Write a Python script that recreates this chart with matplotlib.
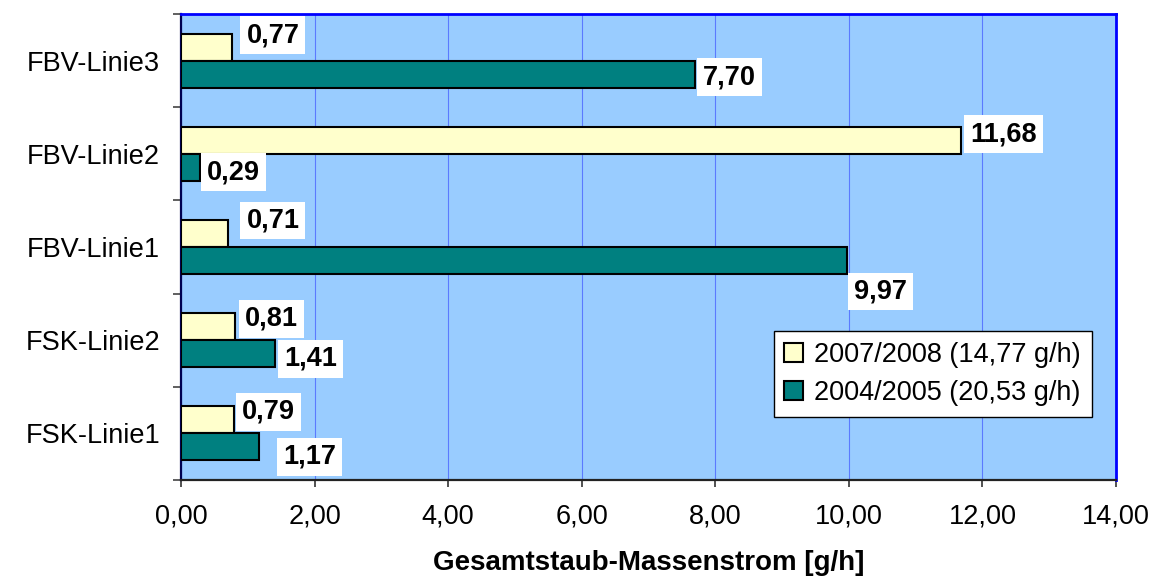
import matplotlib
matplotlib.use("Agg")

import matplotlib.pyplot as plt
import numpy as np

# ============================================================
# Data
# ============================================================

categories = ["FSK-Linie1", "FSK-Linie2", "FBV-Linie1", "FBV-Linie2", "FBV-Linie3"]

values_0708 = [0.79, 0.81, 0.71, 11.68, 0.77]
values_0405 = [1.17, 1.41, 9.97, 0.29, 7.70]

label_0708 = "2007/2008 (14,77 g/h)"
label_0405 = "2004/2005 (20,53 g/h)"

x_ticks = [0, 2, 4, 6, 8, 10, 12, 14]
x_label = "Gesamtstaub-Massenstrom [g/h]"

# label offsets in pixels (dx right, dy up), placement only
offsets_0708 = [(8, 11), (10, 11), (18, 16), (9, 9), (14, 15)]
offsets_0405 = [(24, -7), (9, -2), (7, -28), (7, -2), (8, 0)]

# ============================================================
# Style
# ============================================================

plt.rcParams["font.family"] = ["Liberation Sans", "DejaVu Sans"]

col_0708 = "#FFFFCC"
col_0405 = "#008080"
bg = "#99CCFF"
fs = 19.5


def fmt(v: float) -> str:
    return f"{v:.2f}".replace(".", ",")


fig = plt.figure(figsize=(11.53, 5.78), dpi=100)
ax = fig.add_axes([181 / 1153, 1 - 480 / 578, 935 / 1153, 466 / 578])
ax.set_facecolor(bg)

y = np.arange(len(categories))
h = 0.29

bars_0708 = ax.barh(
    y + h / 2, values_0708, height=h, color=col_0708,
    edgecolor="black", linewidth=1.5, label=label_0708, zorder=3,
)
bars_0405 = ax.barh(
    y - h / 2, values_0405, height=h, color=col_0405,
    edgecolor="black", linewidth=1.5, label=label_0405, zorder=3,
)

for bars, vals, offs in [
    (bars_0708, values_0708, offsets_0708),
    (bars_0405, values_0405, offsets_0405),
]:
    for b, v, (dx, dy) in zip(bars, vals, offs):
        ax.annotate(
            fmt(v),
            xy=(v, b.get_y() + b.get_height() / 2),
            xytext=(dx, dy),
            textcoords="offset pixels",
            ha="left",
            va="center_baseline",
            fontsize=fs,
            fontweight="bold",
            zorder=5,
            annotation_clip=False,
            bbox=dict(boxstyle="square,pad=0.22", facecolor="white", edgecolor="none"),
        )

ax.set_xlim(0, 14)
ax.set_ylim(-0.5, len(categories) - 0.5)

ax.set_xticks(x_ticks)
ax.set_xticklabels([fmt(t) for t in x_ticks], fontsize=fs)
ax.tick_params(axis="x", length=5, width=1.2, color="#333333", pad=12)

ax.set_yticks(y)
ax.set_yticklabels(categories, fontsize=fs)
ax.tick_params(axis="y", which="major", length=0, pad=15)
ax.set_yticks(np.arange(-0.5, len(categories), 1.0), minor=True)
ax.tick_params(axis="y", which="minor", length=6, width=1.2, color="#444444")

ax.xaxis.grid(True, color="#3344FF", linewidth=0.8, alpha=0.6, zorder=1)
ax.set_axisbelow(True)

ax.spines["top"].set_color("#0000FF")
ax.spines["right"].set_color("#0000FF")
ax.spines["top"].set_linewidth(2)
ax.spines["right"].set_linewidth(2)
ax.spines["left"].set_color("#000050")
ax.spines["left"].set_linewidth(1.6)
ax.spines["bottom"].set_color("#222222")
ax.spines["bottom"].set_linewidth(1.6)

ax.set_xlabel(x_label, fontsize=20, fontweight="bold", labelpad=15)

leg = ax.legend(
    handles=[bars_0708, bars_0405],
    loc="upper right",
    bbox_to_anchor=(0.974, 0.32),
    fontsize=fs,
    fancybox=False,
    framealpha=1,
    edgecolor="black",
    handlelength=0.7,
    handleheight=0.7,
    handletextpad=0.4,
    labelspacing=0.45,
    borderpad=0.4,
    borderaxespad=0,
)
leg.get_frame().set_linewidth(1.0)

fig.savefig("out.png", dpi=100)
